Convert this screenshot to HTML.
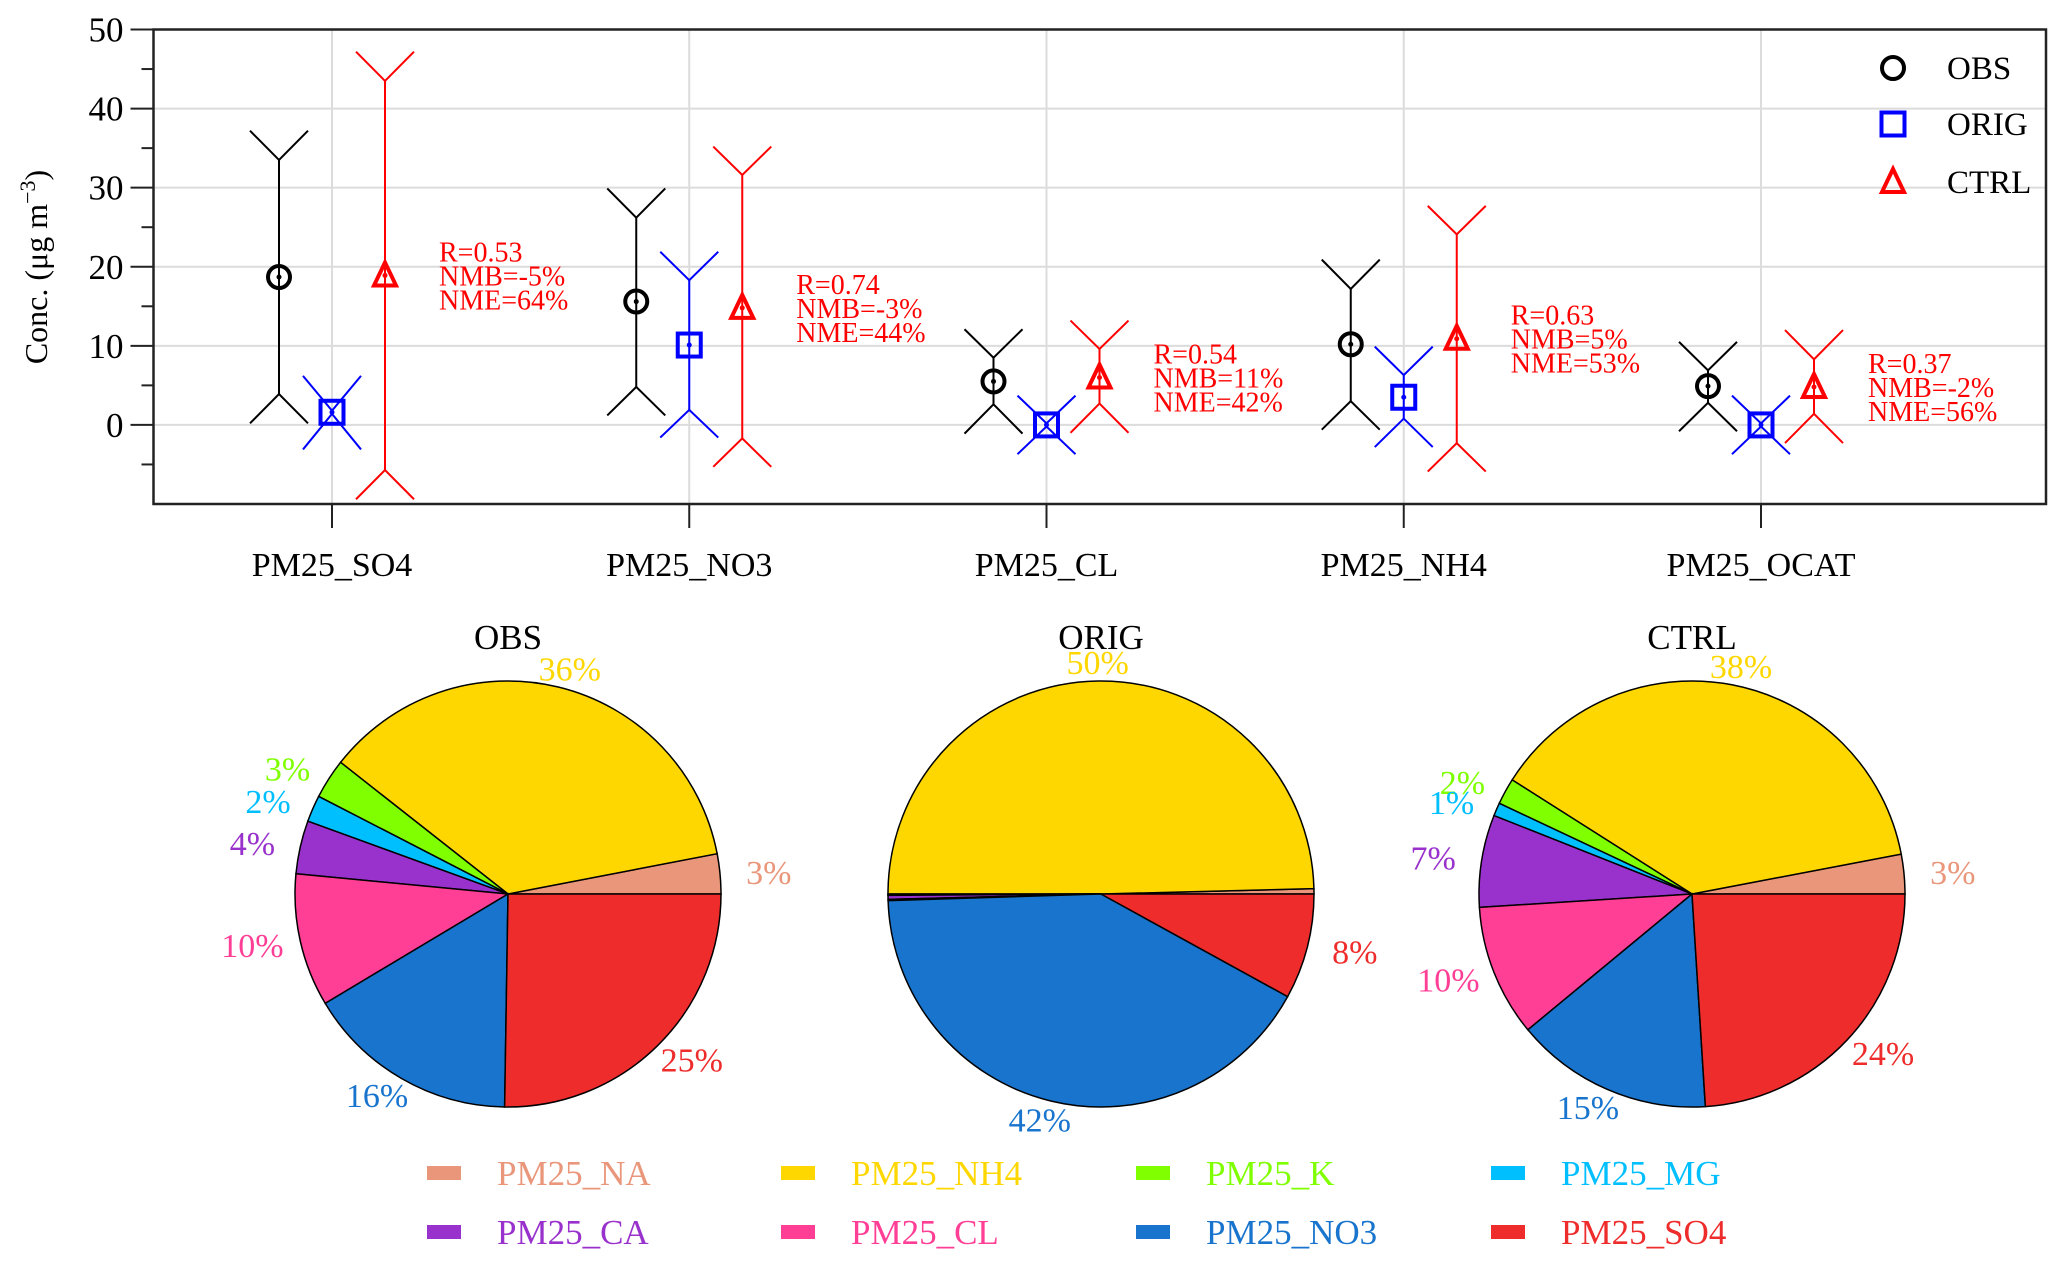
<!DOCTYPE html>
<html><head><meta charset="utf-8">
<style>
html,body{margin:0;padding:0;background:#fff;}
svg{display:block;font-family:"Liberation Serif","Times New Roman",Times,serif;}
</style></head>
<body>
<svg id="chart" width="2067" height="1265" viewBox="0 0 2067 1265" xmlns="http://www.w3.org/2000/svg">
<g id="topChart"></g>
<g id="pieGroup"></g>
<g id="legGroup"></g>
</svg>
<script>
const categories = ['PM25_SO4','PM25_NO3','PM25_CL','PM25_NH4','PM25_OCAT'];
const obsMean   = [18.7, 15.6, 5.5, 10.2, 4.9];
const obsHiIn   = [33.5, 26.2, 8.5, 17.2, 6.9];
const obsHiOut  = [37.2, 29.9, 12.1, 20.9, 10.5];
const obsLoIn   = [3.9, 4.8, 2.6, 3.0, 2.8];
const obsLoOut  = [0.2, 1.2, -1.1, -0.6, -0.8];
const origMean  = [1.6, 10.1, 0.0, 3.5, 0.0];
const origHiIn  = [1.8, 18.3, 0.2, 6.3, 0.2];
const origHiOut = [6.2, 21.9, 3.7, 9.9, 3.7];
const origLoIn  = [1.4, 1.9, -0.2, 0.8, -0.2];
const origLoOut = [-3.1, -1.6, -3.7, -2.8, -3.7];
const ctrlMean  = [18.9, 14.8, 6.0, 10.9, 4.8];
const ctrlHiIn  = [43.5, 31.6, 9.6, 24.1, 8.3];
const ctrlHiOut = [47.2, 35.2, 13.2, 27.7, 12.0];
const ctrlLoIn  = [-5.7, -1.7, 2.7, -2.3, 1.4];
const ctrlLoOut = [-9.4, -5.3, -1.0, -5.9, -2.3];
const statR   = ['0.53','0.74','0.54','0.63','0.37'];
const statNMB = ['-5%','-3%','11%','5%','-2%'];
const statNME = ['64%','44%','42%','53%','56%'];
const yTicks = [0,10,20,30,40,50];
const yMinorTicks = [-5,5,15,25,35,45];

const species = ['PM25_NA','PM25_NH4','PM25_K','PM25_MG','PM25_CA','PM25_CL','PM25_NO3','PM25_SO4'];
const speciesColors = ['#E9967A','#FFD700','#7FFF00','#00BFFF','#9932CC','#FF3E96','#1874CD','#EE2C2C'];
const pieTitles = ['OBS','ORIG','CTRL'];
const pieObs  = [3, 36, 3, 2, 4, 10, 16, 25];
const pieOrig = [0.4, 49.6, 0.05, 0.05, 0.3, 0.1, 41.5, 8];
const pieCtrl = [3, 38, 2, 1, 7, 10, 15, 24];
const pieLabelsObs  = ['3%','36%','3%','2%','4%','10%','16%','25%'];
const pieLabelsOrig = ['','50%','','','','','42%','8%'];
const pieLabelsCtrl = ['3%','38%','2%','1%','7%','10%','15%','24%'];

const NS='http://www.w3.org/2000/svg';
function mk(parent, tag, attrs, text){
  const e=document.createElementNS(NS,tag);
  for(const k in attrs) e.setAttribute(k, attrs[k]);
  if(text!==undefined) e.textContent=text;
  parent.appendChild(e); return e;
}
const PL=153.5, PR=2046, PT=29.5, PB=504;
const yMin=-10, yMax=50;
function yS(v){return PB-(v-yMin)/(yMax-yMin)*(PB-PT);}
function xS(i){return 332+357.25*i;}
const topG=document.getElementById('topChart');

yTicks.forEach(t=>{
  const l=mk(topG,'line',{x1:PL,x2:PR,y1:yS(t),y2:yS(t),stroke:'#dcdcdc','stroke-width':2});
  
  
});
categories.forEach((c,i)=>{
  const l=mk(topG,'line',{x1:xS(i),x2:xS(i),y1:PT,y2:PB,stroke:'#dcdcdc','stroke-width':2});
  
  
});
const plotFrame=mk(topG,'rect',{x:PL,y:PT,width:PR-PL,height:PB-PT,fill:'none',stroke:'#222','stroke-width':2.5});


yTicks.forEach(t=>{
  const l=mk(topG,'line',{x1:PL-23,x2:PL,y1:yS(t),y2:yS(t),stroke:'#222','stroke-width':2});
  
  
  const tx=mk(topG,'text',{x:PL-30,y:yS(t)+12,'text-anchor':'end','font-size':35,fill:'#000'},String(t));
  
  
});
yMinorTicks.forEach(t=>{
  const l=mk(topG,'line',{x1:PL-12,x2:PL,y1:yS(t),y2:yS(t),stroke:'#222','stroke-width':2});
  
  
});
categories.forEach((c,i)=>{
  const l=mk(topG,'line',{x1:xS(i),x2:xS(i),y1:PB,y2:PB+24,stroke:'#222','stroke-width':2});
  
  
  const tx=mk(topG,'text',{x:xS(i),y:576,'text-anchor':'middle','font-size':34,fill:'#000'},c);
  
  
});
const yt=mk(topG,'text',{transform:'translate(47,267) rotate(-90)','text-anchor':'middle','font-size':32,fill:'#000'});


mk(yt,'tspan',{},'Conc. (μg m');
mk(yt,'tspan',{dy:-12,'font-size':22},'−3');
mk(yt,'tspan',{dy:12},')');

const seriesList=[
 {name:'obs',color:'#000',off:-53,mean:obsMean,hi:obsHiIn,hiO:obsHiOut,lo:obsLoIn,loO:obsLoOut,shape:'circle'},
 {name:'orig',color:'#0000FF',off:0,mean:origMean,hi:origHiIn,hiO:origHiOut,lo:origLoIn,loO:origLoOut,shape:'square'},
 {name:'ctrl',color:'#FF0000',off:53,mean:ctrlMean,hi:ctrlHiIn,hiO:ctrlHiOut,lo:ctrlLoIn,loO:ctrlLoOut,shape:'triangle'}
];
function marker(g,shape,x,y,color,sw){
  let m;
  if(shape==='circle') m=mk(g,'circle',{cx:x,cy:y,r:11,fill:'none',stroke:color,'stroke-width':sw});
  else if(shape==='square') m=mk(g,'rect',{x:x-11.5,y:y-11.5,width:23,height:23,fill:'none',stroke:color,'stroke-width':sw});
  else m=mk(g,'polygon',{points:`${x},${y-13} ${x+11},${y+10} ${x-11},${y+10}`,fill:'none',stroke:color,'stroke-width':sw});
  return m;
}
const HW=29;
seriesList.forEach(s=>{
  categories.forEach((c,i)=>{
    const x=xS(i)+s.off;
    const g=mk(topG,'g',{});
    
    
    const st={stroke:s.color,'stroke-width':2,fill:'none'};
    mk(g,'line',Object.assign({x1:x,x2:x,y1:yS(s.hi[i]),y2:yS(s.lo[i])},st));
    mk(g,'polyline',Object.assign({points:`${x-HW},${yS(s.hiO[i])} ${x},${yS(s.hi[i])} ${x+HW},${yS(s.hiO[i])}`},st));
    mk(g,'polyline',Object.assign({points:`${x-HW},${yS(s.loO[i])} ${x},${yS(s.lo[i])} ${x+HW},${yS(s.loO[i])}`},st));
    const m=marker(topG,s.shape,x,yS(s.mean[i]),s.color,4);
    
    
    const d=mk(topG,'circle',{cx:x,cy:yS(s.mean[i]),r:2.5,fill:s.color});
    
    
  });
});
categories.forEach((c,i)=>{
  const yb=yS(ctrlMean[i])+10;
  const t=mk(topG,'text',{x:xS(i)+107,y:yb-24,'font-size':28,fill:'#FF0000'});
  
  
  mk(t,'tspan',{x:xS(i)+107,y:yb-24},'R='+statR[i]);
  mk(t,'tspan',{x:xS(i)+107,y:yb},'NMB='+statNMB[i]);
  mk(t,'tspan',{x:xS(i)+107,y:yb+24},'NME='+statNME[i]);
});
const lgG=mk(topG,'g',{});


const legYs=[68,124,182];
seriesList.forEach((s,k)=>{
  const m=marker(lgG,s.shape,1893,legYs[k],s.color,4);
  
  
  const t=mk(lgG,'text',{x:1947,y:legYs[k]+11,'font-size':33,fill:'#000'},pieTitles[k]);
  
  
});

const pieG=document.getElementById('pieGroup');
const pieCx=[508,1101,1692], pieCy=894, PR_R=213;
const pieData=[pieObs,pieOrig,pieCtrl];
const pieLbl=[pieLabelsObs,pieLabelsOrig,pieLabelsCtrl];
pieData.forEach((vals,p)=>{
  const g=mk(pieG,'g',{});
  
  
  const tot=vals.reduce((a,b)=>a+b,0);
  const cx=pieCx[p];
  let cum=0;
  vals.forEach((v,k)=>{
    const a0=cum/tot*2*Math.PI, a1=(cum+v)/tot*2*Math.PI;
    cum+=v;
    const x0=cx+PR_R*Math.cos(a0), y0=pieCy-PR_R*Math.sin(a0);
    const x1=cx+PR_R*Math.cos(a1), y1=pieCy-PR_R*Math.sin(a1);
    const large=(a1-a0)>Math.PI?1:0;
    const path=mk(g,'path',{d:`M${cx},${pieCy} L${x0},${y0} A${PR_R},${PR_R} 0 ${large} 0 ${x1},${y1} Z`,fill:speciesColors[k],stroke:'#000','stroke-width':1.5});
    
    
  });
  cum=0;
  vals.forEach((v,k)=>{
    const a0=cum/tot*2*Math.PI, a1=(cum+v)/tot*2*Math.PI;
    cum+=v;
    if(pieLbl[p][k]){
      const am=(a0+a1)/2;
      const t=mk(g,'text',{x:cx+262*Math.cos(am),y:pieCy-232*Math.sin(am)+12,'text-anchor':'middle','font-size':34,fill:speciesColors[k]},pieLbl[p][k]);
      
      
    }
  });
  const tt=mk(g,'text',{x:cx,y:649,'text-anchor':'middle','font-size':35,fill:'#000'},pieTitles[p]);
  
  
});

const legG=document.getElementById('legGroup');
const colBox=[427,781,1136,1491], rowY=[1173,1232];
species.forEach((sp,k)=>{
  const col=k%4, row=Math.floor(k/4);
  const b=mk(legG,'rect',{x:colBox[col],y:rowY[row]-7,width:34,height:14,fill:speciesColors[k]});
  
  
  const t=mk(legG,'text',{x:colBox[col]+70,y:rowY[row]+12,'font-size':35,fill:speciesColors[k]},sp);
  
  
});
</script>
</body></html>
